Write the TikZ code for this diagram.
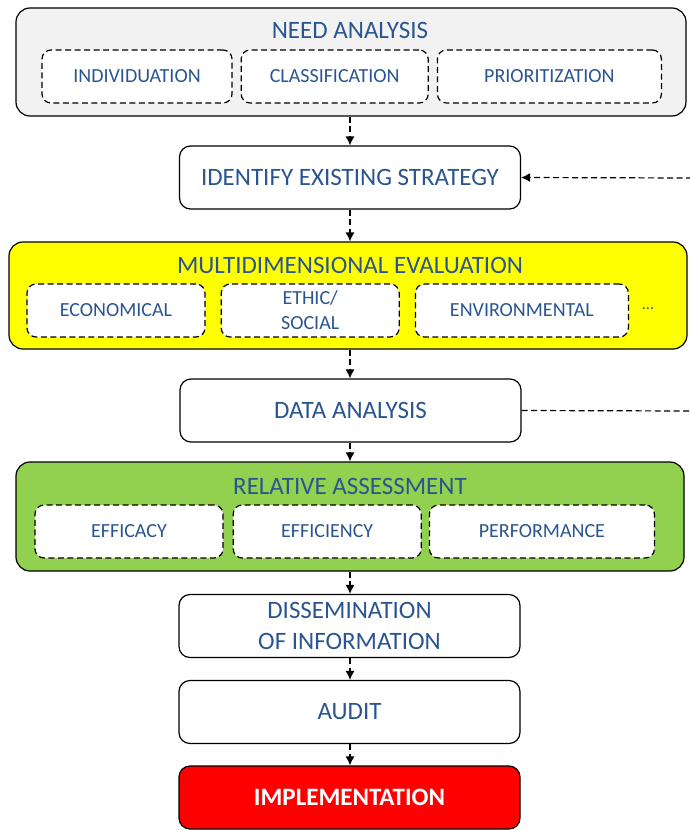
\documentclass[tikz,border=0pt]{standalone}
\usepackage{fontspec}
\setmainfont{Carlito}
\usepackage{tikz}
\usetikzlibrary{arrows.meta,positioning}
\definecolor{txtblue}{HTML}{2A5590}
\definecolor{graybg}{HTML}{F2F2F2}
\definecolor{yellowbg}{HTML}{FFFF00}
\definecolor{greenbg}{HTML}{92D050}
\definecolor{redbg}{HTML}{FF0000}

\begin{document}
\begin{tikzpicture}[
  x=1pt, y=-1pt,
  node distance=8pt,
  stage/.style={draw=black, line width=1.2pt, rounded corners=11pt, fill=white,
                align=center, minimum width=341pt, minimum height=63pt,
                text=txtblue, font=\fontsize{25}{31}\selectfont},
  group/.style={draw=black, line width=1.2pt, rounded corners=14pt},
  grouptitle/.style={text=txtblue, font=\fontsize{25}{30}\selectfont},
  item/.style={draw=black, line width=1.2pt, dash pattern=on 6pt off 3.5pt,
               rounded corners=9pt, fill=white, align=center, minimum height=53pt,
               text=txtblue, font=\fontsize{20}{25}\selectfont},
  arrow/.style={-{Latex[length=9pt,width=9pt]}, line width=1.2pt,
                dash pattern=on 6pt off 3.5pt, draw=black},
  feedback/.style={line width=1.2pt, dash pattern=on 6pt off 3.5pt, draw=black}
]
  \useasboundingbox (0,0) rectangle (689,830);

  % need analysis
  \node[group, fill=graybg, minimum width=670pt, minimum height=108pt] (need) at (351,62) {};
  \node[grouptitle] (needtitle) at (350,30) {NEED ANALYSIS};
  \node[item, minimum width=190pt] (indiv) at (137,76.5) {INDIVIDUATION};
  \node[item, minimum width=187pt, right=of indiv] (classif) {CLASSIFICATION};
  \node[item, minimum width=224pt, right=of classif] (prior) {PRIORITIZATION};

  \node[stage] (ident) at (350,177.5) {IDENTIFY EXISTING STRATEGY};

  % multidimensional evaluation
  \node[group, fill=yellowbg, minimum width=678pt, minimum height=107pt] (multi) at (348,295.5) {};
  \node[grouptitle] (multititle) at (350,265) {MULTIDIMENSIONAL EVALUATION};
  \node[item, minimum width=178pt] (econ) at (116,310.5) {ECONOMICAL};
  \node[item, minimum width=178pt, right=15pt of econ] (ethic) {ETHIC/\\SOCIAL};
  \node[item, minimum width=213pt, right=15pt of ethic] (envir) {ENVIRONMENTAL};
  \node[text=txtblue, font=\fontsize{16}{20}\selectfont] (more) at (648,309) {...};

  \node[stage] (data) at (350.5,410.5) {DATA ANALYSIS};

  % relative assessment
  \node[group, fill=greenbg, minimum width=668pt, minimum height=109pt] (relat) at (350,516.5) {};
  \node[grouptitle] (relattitle) at (350,486) {RELATIVE ASSESSMENT};
  \node[item, minimum width=188pt] (effic) at (129,531.5) {EFFICACY};
  \node[item, minimum width=188pt, right=9pt of effic] (effici) {EFFICIENCY};
  \node[item, minimum width=225pt, right=7pt of effici] (perf) {PERFORMANCE};

  \node[stage] (dissem) at (349.5,626) {DISSEMINATION\\OF INFORMATION};
  \node[stage] (audit) at (349.5,712) {AUDIT};
  \node[stage, fill=redbg, text=white, font=\fontsize{25}{31}\selectfont\bfseries] (impl) at (349.5,797.5) {IMPLEMENTATION};

  \foreach \a/\b in {need/ident,ident/multi,multi/data,data/relat,relat/dissem,dissem/audit,audit/impl}
    \draw[arrow] (\a.south -| ident.south) -- (\b.north -| ident.north);

  % feedback loop, leaves the picture on the right
  \coordinate (fbtop) at (692,178);
  \coordinate (fbbot) at (692,411);
  \draw[feedback] (data.east) -- (fbbot);
  \draw[arrow] (fbtop) -- (ident.east);
\end{tikzpicture}
\end{document}
